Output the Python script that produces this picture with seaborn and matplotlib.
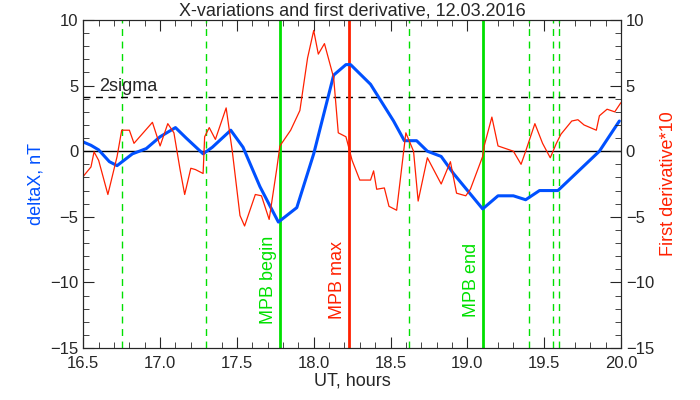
import numpy as np
import pandas as pd
import seaborn as sns
import matplotlib
matplotlib.use("Agg")
import matplotlib.pyplot as plt
from matplotlib.ticker import MultipleLocator

blue_t = [16.48,16.55,16.6,16.67,16.72,16.82,16.91,17.0,17.1,17.17,17.28,17.34,17.46,17.54,17.65,17.77,17.89,18.0,18.13,18.21,18.24,18.37,18.52,18.59,18.67,18.74,18.83,18.91,19.1,19.2,19.3,19.38,19.47,19.59,19.86,19.99]
blue_v = [0.8,0.45,0.1,-0.8,-1.1,-0.2,0.2,1.1,1.8,1.0,-0.2,0.3,1.6,0.3,-2.7,-5.4,-4.3,-0.2,5.8,6.6,6.6,5.1,2.3,0.8,0.8,0,-0.4,-1.7,-4.4,-3.4,-3.4,-3.7,-3.0,-3.0,0,2.3]
red_t = [16.48,16.55,16.57,16.6,16.66,16.72,16.75,16.8,16.83,16.95,17.0,17.05,17.09,17.13,17.16,17.2,17.23,17.28,17.29,17.32,17.36,17.43,17.47,17.52,17.55,17.62,17.66,17.71,17.76,17.78,17.85,17.91,17.96,18.0,18.03,18.07,18.13,18.16,18.21,18.25,18.3,18.37,18.39,18.41,18.46,18.49,18.54,18.6,18.65,18.68,18.74,18.83,18.89,18.93,18.99,19.02,19.1,19.11,19.16,19.2,19.3,19.35,19.38,19.44,19.49,19.54,19.58,19.61,19.68,19.72,19.76,19.84,19.86,19.91,19.96,20.0]
red_v = [-2.2,-1.2,-0.05,-0.7,-3.3,-0.4,1.6,1.6,0.6,2.2,0.4,2.1,1.4,-1.4,-3.3,-1.3,-1.4,-1.7,1.1,1.8,0.9,3.3,0,-4.9,-5.7,-3.3,-3.4,-5.2,-1.3,0.4,1.6,3.1,7.1,9.2,7.4,8.2,5.6,1.4,1.1,-0.7,-2.2,-2.2,-1.5,-2.9,-2.8,-4.2,-4.5,1.4,0,-3.8,-0.5,-2.5,-0.8,-3.2,-3.4,-2.9,-0.4,0.4,2.6,0.4,0,-1,0,2.1,0.6,-0.5,0.6,1.3,2.3,2.4,2.0,1.6,2.7,3.2,3.0,3.7]
dashed_t = [16.75,17.3,18.62,19.4,19.56,19.6]
two_sigma = 4.1
events = ["MPB begin","MPB max","MPB end"]
event_t = [17.78,18.23,19.1]
event_c = ["#00e000","#ff2000","#00e000"]

sns.set_style("ticks")
plt.rcParams['font.family'] = ['Liberation Sans','DejaVu Sans']
fig = plt.figure(figsize=(7,4),dpi=100)
ax = fig.add_axes([0.119,0.13,0.768,0.82])
ax2 = ax.twinx()
for a in (ax, ax2):
    a.set_xlim(16.5,20); a.set_ylim(-15,10)
    a.yaxis.set_major_locator(MultipleLocator(5)); a.yaxis.set_minor_locator(MultipleLocator(1))
    a.tick_params(direction='in', which='both', labelsize=12)
    a.tick_params(which='major', length=8); a.tick_params(which='minor', length=4)
ax.xaxis.set_major_locator(MultipleLocator(0.5)); ax.xaxis.set_minor_locator(MultipleLocator(0.1))
ax.tick_params(top=True, which='both')
ax.tick_params(axis='x', pad=6)
for t in dashed_t:
    ax.axvline(t, color='#00e000', ls=(0,(5,4)), lw=1)
ax.axhline(0, color='black', lw=1)
ax.axhline(two_sigma, color='black', ls=(0,(5,4)), lw=1)
ax.text(16.6, two_sigma+0.5, "2sigma", fontsize=13)
for name, t, c in zip(events, event_t, event_c):
    ax.axvline(t, color=c, lw=2)
    ax.text(t-0.02, -9.8, name, rotation=90, color=c, fontsize=13, ha='right', va='center')
sns.lineplot(x=red_t, y=red_v, ax=ax2, color='#ff2000', lw=0.9)
sns.lineplot(x=blue_t, y=blue_v, ax=ax, color='#0050ff', lw=2.2)
ax.set_title("X-variations and first derivative, 12.03.2016", fontsize=13, pad=3)
ax.set_xlabel("UT, hours", fontsize=13, labelpad=1)
ax.set_ylabel("deltaX, nT", color='#0050ff', fontsize=13)
ax2.set_ylabel("First derivative*10", color='#ff2000', fontsize=13)
fig.savefig("out.png", dpi=100)
